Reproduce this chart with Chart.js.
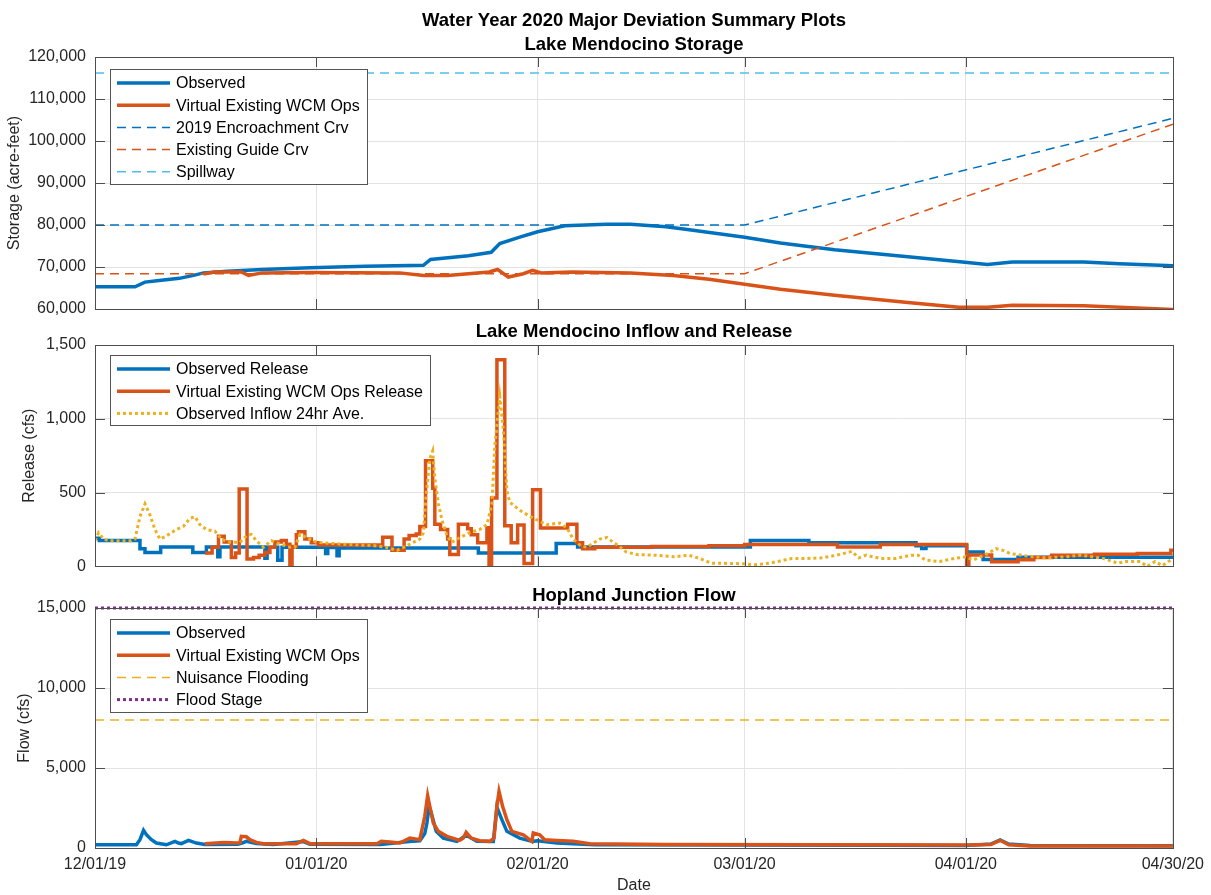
<!DOCTYPE html>
<html>
<head>
<meta charset="utf-8">
<title>Water Year 2020 Major Deviation Summary Plots</title>
<script src="https://cdn.jsdelivr.net/npm/chart.js@4/dist/chart.umd.min.js"></script>
<style>
  body { margin: 0; background: #fff; }
  canvas { position: absolute; left: 0; }
</style>
</head>
<body>
<canvas id="storage" width="1211" height="330" style="top:0"></canvas>
<canvas id="release" width="1211" height="265" style="top:320px"></canvas>
<canvas id="hopland" width="1211" height="310" style="top:585px"></canvas>
<script>
// x values are days since 12/01/19
const tickDays = [0, 31, 62, 91, 122, 151];
const tickLabels = ['12/01/19', '01/01/20', '02/01/20', '03/01/20', '04/01/20', '04/30/20'];

// Lake Mendocino storage (acre-feet)
const storObsDays = [0, 5.6, 7, 9, 11.8, 13.8, 15.2, 18.5, 23.4, 30.1, 37.9, 46, 47, 52.3, 55.5, 56.7, 59.5, 62, 65.8, 71.6, 75, 80, 83.5, 91, 96, 103.6, 113.5, 121.5, 125, 128.5, 138.5, 143.5, 151];
const storObs = [65300, 65300, 66400, 66800, 67300, 68000, 68600, 69000, 69400, 69800, 70200, 70400, 71800, 72700, 73500, 75600, 77100, 78400, 79800, 80200, 80200, 79600, 78800, 77100, 75700, 74100, 72500, 71200, 70600, 71200, 71200, 70800, 70300];
const storWcmDays = [15.2, 16.7, 19.5, 20.5, 21.5, 23.4, 30.1, 42.7, 46, 49.4, 55.2, 56.4, 57.9, 60, 61.3, 62.5, 66.8, 75, 81, 86, 91, 96, 103.6, 113.5, 121, 125, 128.5, 138.5, 151];
const storWcm = [68300, 68800, 68800, 68800, 68000, 68600, 68700, 68600, 68000, 68000, 68800, 69400, 67600, 68400, 69200, 68600, 68800, 68600, 68000, 67100, 65900, 64700, 63300, 61600, 60400, 60400, 60900, 60800, 59900];
const encroachDays = [0, 91, 151];
const encroach = [80000, 80000, 105400];
const guideDays = [0, 91, 151];
const guide = [68400, 68400, 104000];
const spillwayDays = [0, 151];
const spillway = [116200, 116200];

// Lake Mendocino release and inflow (cfs); release values hold until the next day listed
const relObsDays = [0, 0.6, 6.3, 7.0, 9.2, 13.7, 15.6, 17.2, 17.5, 23.8, 24.1, 25.6, 26.2, 32.3, 32.6, 33.9, 34.2, 53.7, 64.6, 67.6, 91.8, 100, 115, 115.8, 116.4, 122.1, 124.4, 129.3, 151];
const relObs = [190, 175, 120, 95, 132, 95, 132, 65, 132, 55, 130, 42, 130, 87, 128, 72, 125, 90, 155, 132, 175, 160, 140, 122, 140, 98, 46, 62, 62];
const relWcmDays = [15.4, 16.4, 17.3, 18.1, 19.1, 19.7, 20.2, 21.3, 22.2, 23.0, 23.8, 24.5, 25.2, 26.1, 26.8, 27.3, 27.6, 28.2, 28.5, 29.4, 30.3, 31.3, 40.3, 41.6, 43.3, 44.0, 45.0, 45.5, 46.3, 47.3, 47.6, 48.4, 49.4, 49.7, 50.9, 52.2, 52.7, 53.6, 54.9, 55.2, 55.55, 56.3, 57.4, 58.3, 59.2, 60.1, 61.3, 62.4, 66.2, 67.5, 68.3, 70, 78, 86, 91, 104, 110, 121.8, 122.1, 122.4, 125.6, 129.3, 131.5, 134, 140, 146, 150.7, 151];
const relWcm = [90, 130, 205, 165, 60, 90, 525, 50, 60, 75, 95, 130, 165, 175, 150, 0, 135, 215, 235, 185, 160, 145, 198, 110, 185, 210, 220, 270, 715, 530, 285, 250, 185, 80, 285, 255, 215, 160, 262, 0, 463, 1400, 275, 160, 280, 20, 520, 260, 285, 160, 120, 130, 135, 140, 148, 132, 148, 148, 0, 78, 32, 45, 60, 75, 82, 88, 110, 110];
const inflowDays = [0, 0.5, 1.2, 2, 5, 5.6, 6.3, 7, 7.7, 8.4, 9.1, 10, 11.4, 12.4, 13.3, 14, 14.7, 15.6, 16.8, 17.7, 18.9, 20.3, 21.2, 21.9, 22.6, 23.6, 24.7, 25.9, 27.3, 28, 28.7, 29.6, 31, 34.3, 39, 40.8, 42.3, 43.7, 44.6, 45.5, 46, 46.4, 46.9, 47.3, 47.6, 48.1, 48.6, 49.3, 50, 50.7, 51.6, 52.5, 53.9, 54.9, 55.6, 56, 56.7, 57.2, 57.7, 58.1, 59.5, 61.4, 63.3, 65.1, 66.1, 67, 68, 68.9, 70.7, 71.7, 72.6, 73.3, 74.4, 75.9, 78.5, 81.1, 83.2, 84.7, 86.3, 88.8, 90.9, 92.4, 94.5, 96, 97.6, 99.7, 101.8, 103.9, 106, 107, 108, 110, 112.2, 114.3, 115.3, 116.3, 118.3, 120.4, 122, 123, 124.6, 126.2, 127.2, 128.2, 130.3, 132.9, 136, 138.1, 141.2, 143.3, 144.3, 146.4, 147.4, 148.5, 149.5, 151];
const inflow = [174, 228, 185, 174, 174, 185, 337, 424, 348, 250, 185, 207, 250, 272, 326, 337, 283, 250, 239, 185, 163, 163, 207, 217, 174, 130, 174, 152, 130, 130, 217, 196, 163, 152, 141, 130, 109, 141, 163, 185, 228, 489, 730, 782, 598, 424, 315, 207, 163, 185, 207, 230, 250, 283, 424, 815, 1152, 924, 511, 435, 380, 326, 283, 294, 261, 185, 141, 130, 185, 196, 163, 141, 98, 80, 76, 65, 76, 54, 22, 20, 18, 11, 22, 37, 54, 54, 58, 76, 102, 58, 76, 54, 54, 76, 76, 43, 33, 54, 65, 43, 76, 120, 109, 87, 72, 58, 65, 76, 54, 22, 33, 33, 0, 33, 5, 54];

// Hopland junction flow (cfs)
const hopObsDays = [0, 5.8, 6.3, 6.8, 7.2, 7.9, 8.6, 10, 11.2, 11.7, 12.1, 13.1, 14.2, 15.4, 20, 20.6, 21.2, 22.6, 25, 29.2, 30.1, 40, 44, 45.5, 46.2, 46.5, 46.8, 47.1, 47.8, 48.8, 50.7, 52, 53.5, 55.8, 56.3, 57, 57.7, 59.5, 61.3, 62, 64.7, 70, 90, 110, 122, 125.5, 126.8, 128, 131, 151];
const hopObs = [200, 200, 520, 1100, 830, 520, 310, 200, 415, 310, 270, 475, 310, 220, 230, 300, 415, 280, 220, 400, 230, 220, 400, 450, 900, 1560, 2600, 2200, 1040, 620, 415, 800, 415, 400, 2550, 1770, 1040, 620, 415, 450, 310, 200, 180, 170, 160, 250, 500, 250, 150, 140];
const hopWcmDays = [15.4, 18, 19.8, 20.3, 20.5, 21.2, 21.7, 22.6, 23.6, 28.2, 29.2, 30.1, 39.5, 40.1, 41.3, 42.7, 44.1, 45.5, 46.2, 46.6, 46.9, 47.4, 48.1, 49.3, 51.1, 51.6, 52, 52.7, 53.9, 55.3, 55.9, 56.3, 56.6, 57.1, 57.7, 58.4, 60, 61.2, 61.4, 62.3, 63, 64.7, 67, 69.3, 80, 100, 122, 125.5, 126.8, 128, 131, 151];
const hopWcm = [270, 350, 310, 330, 730, 700, 520, 350, 270, 270, 475, 270, 270, 415, 380, 310, 620, 520, 1980, 3270, 2600, 1560, 1040, 730, 475, 620, 975, 620, 455, 415, 620, 2600, 3540, 2600, 1770, 1040, 830, 415, 935, 830, 520, 475, 415, 270, 220, 200, 180, 220, 480, 200, 130, 120];
const nuisanceDays = [0, 151];
const nuisance = [8000, 8000];
const floodDays = [0, 151];
const flood = [15000, 15000];

const FONT = '"Liberation Sans", Arial, Helvetica, sans-serif';
const BLUE = '#0072BD', ORANGE = '#D95319', YELLOW = '#EDB120', PURPLE = '#7E2F8E', CYAN = '#4DBEEE';
const GRID = '#e3e3e3', EDGE = '#4d4d4d';

Chart.defaults.font.family = FONT;
Chart.defaults.font.size = 16;
Chart.defaults.color = '#262626';
Chart.defaults.animation = false;

const pts = (xs, ys) => xs.map((x, i) => ({x, y: ys[i]}));

function line(label, xs, ys, color, width, dash, extra) {
  return Object.assign({
    label, data: pts(xs, ys), borderColor: color, backgroundColor: color,
    borderWidth: width, borderDash: dash || [], pointRadius: 0, fill: false, tension: 0
  }, extra || {});
}

function xAxis(showLabels) {
  return {
    type: 'linear', min: 0, max: 151,
    afterBuildTicks: s => { s.ticks = tickDays.map(v => ({value: v})); },
    afterFit: s => { s.height = showLabels ? 47 : 0; },
    grid: {color: GRID, drawTicks: false},
    border: {display: false},
    ticks: {display: showLabels, autoSkip: false, maxRotation: 0, padding: 7,
            callback: (v, i) => tickLabels[i]},
    title: {display: showLabels, text: 'Date', padding: {top: 0, bottom: 0}}
  };
}

function yAxis(min, max, step, title, titlePad) {
  return {
    min, max,
    afterFit: s => { s.width = 95; },
    grid: {color: GRID, drawTicks: false},
    border: {display: false},
    ticks: {stepSize: step, padding: 9, callback: v => v.toLocaleString('en-US')},
    title: {display: true, text: title, padding: {top: titlePad, bottom: 0}}
  };
}

// axes box with inward tick marks on all four sides
const frame = {
  id: 'frame',
  afterDraw(chart) {
    const {ctx, chartArea: a, scales: {x, y}} = chart;
    ctx.save();
    ctx.strokeStyle = EDGE;
    ctx.lineWidth = 1;
    ctx.beginPath();
    tickDays.slice(1, -1).forEach(d => {
      const px = Math.round(x.getPixelForValue(d)) + 0.5;
      ctx.moveTo(px, a.top); ctx.lineTo(px, a.top + 10);
      ctx.moveTo(px, a.bottom); ctx.lineTo(px, a.bottom - 10);
    });
    y.ticks.forEach(t => {
      const py = Math.round(y.getPixelForValue(t.value)) + 0.5;
      ctx.moveTo(a.left, py); ctx.lineTo(a.left + 10, py);
      ctx.moveTo(a.right, py); ctx.lineTo(a.right - 10, py);
    });
    ctx.stroke();
    ctx.strokeRect(Math.round(a.left) + 0.5, Math.round(a.top) + 0.5,
                   Math.round(a.right - a.left), Math.round(a.bottom - a.top));
    ctx.restore();
  }
};

function headings(lines) {
  return {
    id: 'headings',
    afterDraw(chart) {
      const {ctx, chartArea: a} = chart;
      ctx.save();
      ctx.font = 'bold 18.5px ' + FONT;
      ctx.fillStyle = '#000';
      ctx.textAlign = 'center';
      ctx.textBaseline = 'middle';
      lines.forEach(([text, y]) => ctx.fillText(text, (a.left + a.right) / 2, y));
      ctx.restore();
    }
  };
}

// legend box drawn inside the upper-left of the plot area
function boxLegend(dx, dy) {
  return {
    id: 'boxLegend',
    afterDraw(chart) {
      const {ctx, chartArea: a} = chart;
      const sets = chart.data.datasets;
      ctx.save();
      ctx.font = '16px ' + FONT;
      const textW = Math.max(...sets.map(d => ctx.measureText(d.label).width));
      const left = Math.round(a.left + dx), top = Math.round(a.top + dy);
      const rowH = 22.2;
      const w = Math.round(66 + textW + 7);
      const h = Math.round(14 + (sets.length - 1) * rowH + 12);
      ctx.fillStyle = '#fff';
      ctx.fillRect(left, top, w, h);
      ctx.strokeStyle = '#555';
      ctx.lineWidth = 1;
      ctx.strokeRect(left + 0.5, top + 0.5, w, h);
      sets.forEach((d, i) => {
        const cy = top + 14 + i * rowH;
        ctx.beginPath();
        ctx.setLineDash(d.borderDash || []);
        ctx.lineWidth = d.borderWidth;
        ctx.strokeStyle = d.borderColor;
        ctx.moveTo(left + 7, cy);
        ctx.lineTo(left + 60, cy);
        ctx.stroke();
        ctx.setLineDash([]);
        ctx.fillStyle = '#000';
        ctx.textBaseline = 'middle';
        ctx.fillText(d.label, left + 66, cy + 1);
      });
      ctx.restore();
    }
  };
}

function makeChart(id, datasets, yScale, showDates, padding, extraPlugins) {
  // later series are drawn over earlier ones
  datasets.forEach((d, i) => { d.order = -i; });
  return new Chart(document.getElementById(id), {
    type: 'line',
    data: {datasets},
    options: {
      responsive: false,
      maintainAspectRatio: false,
      layout: {padding},
      scales: {x: xAxis(showDates), y: yScale},
      plugins: {legend: {display: false}, tooltip: {enabled: false}}
    },
    plugins: [frame].concat(extraPlugins)
  });
}

makeChart('storage', [
  line('Observed', storObsDays, storObs, BLUE, 3.5),
  line('Virtual Existing WCM Ops', storWcmDays, storWcm, ORANGE, 3.5),
  line('2019 Encroachment Crv', encroachDays, encroach, BLUE, 1.5, [9, 6]),
  line('Existing Guide Crv', guideDays, guide, ORANGE, 1.5, [9, 6]),
  line('Spillway', spillwayDays, spillway, CYAN, 1.5, [9, 6])
], yAxis(60000, 120000, 10000, 'Storage (acre-feet)', 5), false,
  {top: 57, right: 38, bottom: 21, left: 0},
  [headings([['Water Year 2020 Major Deviation Summary Plots', 21], ['Lake Mendocino Storage', 45]]), boxLegend(15, 12)]);

makeChart('release', [
  line('Observed Release', relObsDays, relObs, BLUE, 3.5, [], {stepped: true}),
  line('Virtual Existing WCM Ops Release', relWcmDays, relWcm, ORANGE, 3.5, [], {stepped: true}),
  line('Observed Inflow 24hr Ave.', inflowDays, inflow, YELLOW, 3, [3, 3])
], yAxis(0, 1500, 500, 'Release (cfs)', 20), false,
  {top: 25, right: 38, bottom: 10, left: 0},
  [headings([['Lake Mendocino Inflow and Release', 12]]), boxLegend(15, 10)]);

makeChart('hopland', [
  line('Observed', hopObsDays, hopObs, BLUE, 3.5),
  line('Virtual Existing WCM Ops', hopWcmDays, hopWcm, ORANGE, 3.5),
  line('Nuisance Flooding', nuisanceDays, nuisance, YELLOW, 1.5, [9, 6]),
  line('Flood Stage', floodDays, flood, PURPLE, 3, [3, 3], {clip: 4})
], yAxis(0, 15000, 5000, 'Flow (cfs)', 15), true,
  {top: 23, right: 38, bottom: 0, left: 0},
  [headings([['Hopland Junction Flow', 11]]), boxLegend(15, 11)]);
</script>
</body>
</html>
